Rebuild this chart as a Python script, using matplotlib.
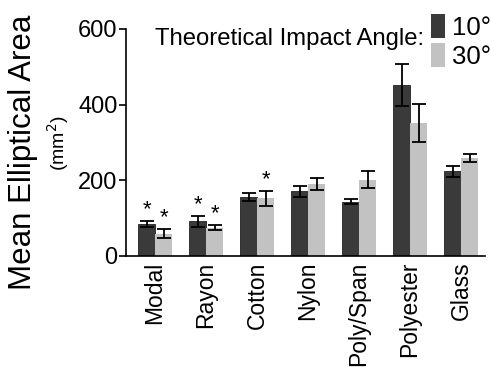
import matplotlib
matplotlib.use("Agg")
import matplotlib.pyplot as plt
import numpy as np
from matplotlib.patches import Patch

plt.rcParams['font.family'] = ['Liberation Sans', 'DejaVu Sans']

categories = ["Modal", "Rayon", "Cotton", "Nylon", "Poly/Span", "Polyester", "Glass"]
mean_10 = [84, 92, 156, 171, 144, 452, 224]
err_10 = [8, 15, 10, 15, 7, 56, 15]
mean_30 = [59, 75, 153, 190, 202, 352, 259]
err_30 = [12, 7, 20, 16, 23, 50, 10]
star_10 = [True, True, False, False, False, False, False]
star_30 = [True, True, True, False, False, False, False]
yticks = [0, 200, 400, 600]

dark = "#3a3a3a"
light = "#c2c2c2"

fig = plt.figure(figsize=(4.91, 3.67), dpi=100)
ax = fig.add_axes([0.2566, 0.3025, 0.7314, 0.6185])

x = np.arange(len(categories))
w = 0.333
ekw = dict(ecolor="black", elinewidth=1.3, capsize=5, capthick=1.3)
ax.bar(x - w / 2, mean_10, w, yerr=err_10, color=dark, edgecolor="#222222", linewidth=0.6, error_kw=ekw)
ax.bar(x + w / 2, mean_30, w, yerr=err_30, color=light, edgecolor="none", error_kw=ekw)

for i in range(len(categories)):
    if star_10[i]:
        ax.text(x[i] - w / 2, mean_10[i] + err_10[i] + 2, "*", ha="center", va="bottom", fontsize=16)
    if star_30[i]:
        ax.text(x[i] + w / 2, mean_30[i] + err_30[i] + 2, "*", ha="center", va="bottom", fontsize=16)

ax.set_xlim(-0.57, 6.47)
ax.set_ylim(0, 600)
ax.set_yticks(yticks)
ax.set_yticklabels([str(t) for t in yticks], fontsize=17)
ax.set_xticks(x)
ax.set_xticklabels(categories, rotation=90, fontsize=16.5)
ax.tick_params(axis="x", length=0, pad=4)
ax.tick_params(axis="y", length=5, width=1.2, pad=1)
for s in ["top", "right"]:
    ax.spines[s].set_visible(False)
for s in ["left", "bottom"]:
    ax.spines[s].set_linewidth(1.2)

fig.text(0.047, 0.585, "Mean Elliptical Area", rotation=90, ha="center", va="center", fontsize=22.5)
fig.text(0.118, 0.61, "(mm$^2$)", rotation=90, ha="center", va="center", fontsize=14)

fig.text(0.315, 0.895, "Theoretical Impact Angle:", ha="left", va="center", fontsize=17.2)
handles = [Patch(facecolor=dark, edgecolor="none"), Patch(facecolor=light, edgecolor="none")]
fig.legend(handles, ["10°", "30°"], loc="upper left", bbox_to_anchor=(0.878, 0.962),
           frameon=False, fontsize=18.5, handlelength=0.55, handleheight=1.05,
           handletextpad=0.25, labelspacing=0.15, borderpad=0, borderaxespad=0)

fig.savefig("out.png", dpi=100)
